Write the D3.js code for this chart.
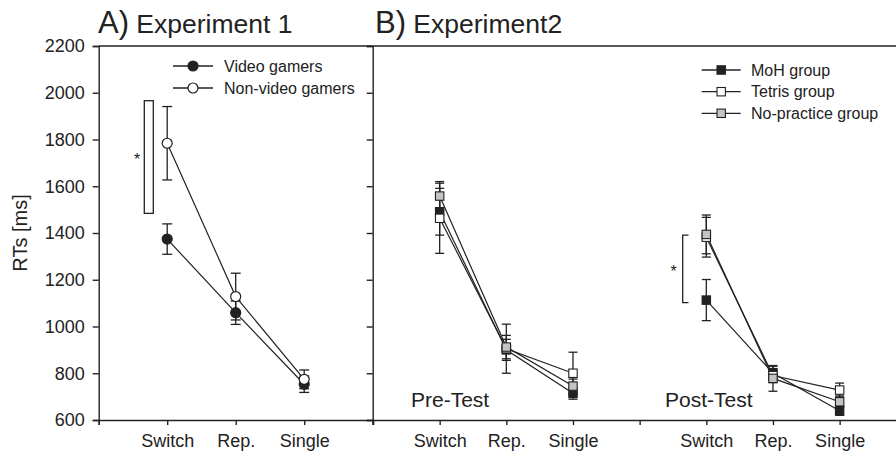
<!DOCTYPE html>
<html><head><meta charset="utf-8">
<script src="https://cdn.jsdelivr.net/npm/d3@7"></script>
<style>body{margin:0;background:#fff}svg{display:block}text{font-family:"Liberation Sans",Arial,sans-serif;fill:#222}</style>
</head><body><svg id="c" width="896" height="453"></svg>
<script>
// ---- data ----
const yTicks = [600, 800, 1000, 1200, 1400, 1600, 1800, 2000, 2200];
const conditions = ["Switch", "Rep.", "Single"];
const tests = ["Pre-Test", "Post-Test"];
// Panel A (Experiment 1)
const vgMean = [1374, 1059, 753];
const vgErr = [65, 50, 35];
const nvgMean = [1784, 1128, 774];
const nvgErr = [157, 100, 40];
const bracketA = [1484, 1966];
// Panel B (Experiment 2): [pre Switch, Rep., Single, post Switch, Rep., Single]
const mohMean = [1491, 900, 714, 1113, 800, 640];
const mohErr = [100, 45, 25, 88, 30, 20];
const tetrisMean = [1463, 905, 800, 1382, 790, 728];
const tetrisErr = [150, 105, 90, 85, 30, 30];
const npMean = [1558, 912, 745, 1394, 778, 678];
const npErr = [62, 50, 30, 83, 55, 25];
const bracketB = [1102, 1391];

const svg = d3.select("#c");
const ink = "#222";
const y = d3.scaleLinear().domain([600, 2200]).range([420, 46]);
const xA = d3.scaleLinear().domain([0, 4]).range([98.7, 372.7]);
const xB = d3.scaleLinear().domain([0, 8]).range([373, 906.3]);

// y axis (left)
svg.append("g").attr("transform", `translate(${xA(0)},0)`)
  .call(d3.axisLeft(y).tickValues(yTicks).tickSize(6).tickPadding(8).tickFormat(d3.format("d")))
  .call(g => { g.selectAll("path,line").attr("stroke", ink).attr("stroke-width", 1.4);
    g.selectAll("text").attr("font-size", 18); g.attr("font-family", null); });
// divider with left ticks
svg.append("g").attr("transform", `translate(${xA(4)},0)`)
  .call(d3.axisLeft(y).tickValues(yTicks).tickSize(6).tickFormat(""))
  .call(g => g.selectAll("path,line").attr("stroke", ink).attr("stroke-width", 1.4));
// top border
svg.append("line").attr("x1", xA(0)).attr("x2", 896).attr("y1", y(2200)).attr("y2", y(2200))
  .attr("stroke", ink).attr("stroke-width", 1.4);
// x axes
function xAxis(scale, ticks, labels) {
  const g = svg.append("g").attr("transform", `translate(0,${y(600)})`)
    .call(d3.axisBottom(scale).tickValues(ticks).tickSize(5).tickPadding(5)
      .tickFormat(d => labels[d] || ""));
  g.selectAll("path,line").attr("stroke", ink).attr("stroke-width", 1.4);
  g.selectAll("text").attr("font-size", 18).attr("dy", "0.95em");
  g.attr("font-family", null);
}
const labA = {1: conditions[0], 2: conditions[1], 3: conditions[2]};
xAxis(xA, [0, 1, 2, 3, 4], labA);
const labB = {1: conditions[0], 2: conditions[1], 3: conditions[2], 5: conditions[0], 6: conditions[1], 7: conditions[2]};
xAxis(xB, [0, 1, 2, 3, 4, 5, 6, 7, 8], labB);

// y label
svg.append("text").attr("transform", `translate(27,${y(1400)}) rotate(-90)`)
  .attr("text-anchor", "middle").attr("font-size", 20).text("RTs [ms]");

// titles
function title(x0, letter, txt) {
  const t = svg.append("text").attr("x", x0).attr("y", 33);
  t.append("tspan").attr("font-size", 31).text(letter);
  t.append("tspan").attr("font-size", 26.5).text(" " + txt);
}
title(98, "A)", "Experiment 1");
title(375, "B)", "Experiment2");

// helpers
function errBars(xs, means, errs, cap) {
  means.forEach((m, i) => {
    const x = xs[i];
    const g = svg.append("g").attr("stroke", ink).attr("stroke-width", 1.3);
    g.append("line").attr("x1", x).attr("x2", x).attr("y1", y(m - errs[i])).attr("y2", y(m + errs[i]));
    [m - errs[i], m + errs[i]].forEach(v => g.append("line").attr("x1", x - cap).attr("x2", x + cap).attr("y1", y(v)).attr("y2", y(v)));
  });
}
function polyline(xs, means) {
  svg.append("path").attr("fill", "none").attr("stroke", ink).attr("stroke-width", 1.2)
    .attr("d", d3.line().x((d, i) => xs[i]).y(d => y(d))(means));
}
function circles(xs, means, fill) {
  means.forEach((m, i) => svg.append("circle").attr("cx", xs[i]).attr("cy", y(m)).attr("r", 5)
    .attr("fill", fill).attr("stroke", ink).attr("stroke-width", 1.2));
}
function squares(xs, means, fill) {
  means.forEach((m, i) => svg.append("rect").attr("x", xs[i] - 4.2).attr("y", y(m) - 4.2)
    .attr("width", 8.4).attr("height", 8.4).attr("fill", fill).attr("stroke", ink).attr("stroke-width", 1.1));
}

// Panel A
const xsA = [1, 2, 3].map(xA);
polyline(xsA, vgMean); polyline(xsA, nvgMean);
errBars(xsA, vgMean, vgErr, 5); errBars(xsA, nvgMean, nvgErr, 5);
circles(xsA, vgMean, ink); circles(xsA, nvgMean, "#fff");
// significance box A
svg.append("rect").attr("x", 144.3).attr("y", y(bracketA[1])).attr("width", 9)
  .attr("height", y(bracketA[0]) - y(bracketA[1])).attr("fill", "none").attr("stroke", ink).attr("stroke-width", 1.3);
svg.append("text").attr("x", 137).attr("y", (y(bracketA[0]) + y(bracketA[1])) / 2 + 8)
  .attr("text-anchor", "middle").attr("font-size", 16).text("*");

// Panel B
const groups = [[mohMean, mohErr, ink], [tetrisMean, tetrisErr, "#fff"], [npMean, npErr, "#c4c4c4"]];
[[1, 2, 3], [5, 6, 7]].forEach((pos, t) => {
  const xs = pos.map(xB);
  groups.forEach(([m, e]) => polyline(xs, m.slice(t * 3, t * 3 + 3)));
  groups.forEach(([m, e]) => errBars(xs, m.slice(t * 3, t * 3 + 3), e.slice(t * 3, t * 3 + 3), 4.5));
  groups.forEach(([m, e, f]) => squares(xs, m.slice(t * 3, t * 3 + 3), f));
});
svg.append("text").attr("x", 411).attr("y", 407).attr("font-size", 21).text(tests[0]);
svg.append("text").attr("x", 665).attr("y", 407).attr("font-size", 21).text(tests[1]);
// bracket B
svg.append("path").attr("fill", "none").attr("stroke", ink).attr("stroke-width", 1.3)
  .attr("d", `M688.5,${y(bracketB[1])}H682.7V${y(bracketB[0])}H688.5`);
svg.append("text").attr("x", 673.5).attr("y", (y(bracketB[0]) + y(bracketB[1])) / 2 + 8)
  .attr("text-anchor", "middle").attr("font-size", 16).text("*");

// legends
function legend(x1, x2, tx, rows) {
  rows.forEach(([label, shape, fill, yy]) => {
    svg.append("line").attr("x1", x1).attr("x2", x2).attr("y1", yy).attr("y2", yy).attr("stroke", ink).attr("stroke-width", 1.3);
    const cx = (x1 + x2) / 2;
    if (shape === "c") svg.append("circle").attr("cx", cx).attr("cy", yy).attr("r", 5).attr("fill", fill).attr("stroke", ink).attr("stroke-width", 1.2);
    else svg.append("rect").attr("x", cx - 4.2).attr("y", yy - 4.2).attr("width", 8.4).attr("height", 8.4).attr("fill", fill).attr("stroke", ink).attr("stroke-width", 1.1);
    svg.append("text").attr("x", tx).attr("y", yy).attr("dy", "0.35em").attr("font-size", 16).text(label);
  });
}
legend(173, 213, 224, [["Video gamers", "c", ink, 66], ["Non-video gamers", "c", "#fff", 88]]);
legend(701.7, 740.7, 751, [["MoH group", "s", ink, 70], ["Tetris group", "s", "#fff", 91.7], ["No-practice group", "s", "#c4c4c4", 113.3]]);
</script></body></html>
